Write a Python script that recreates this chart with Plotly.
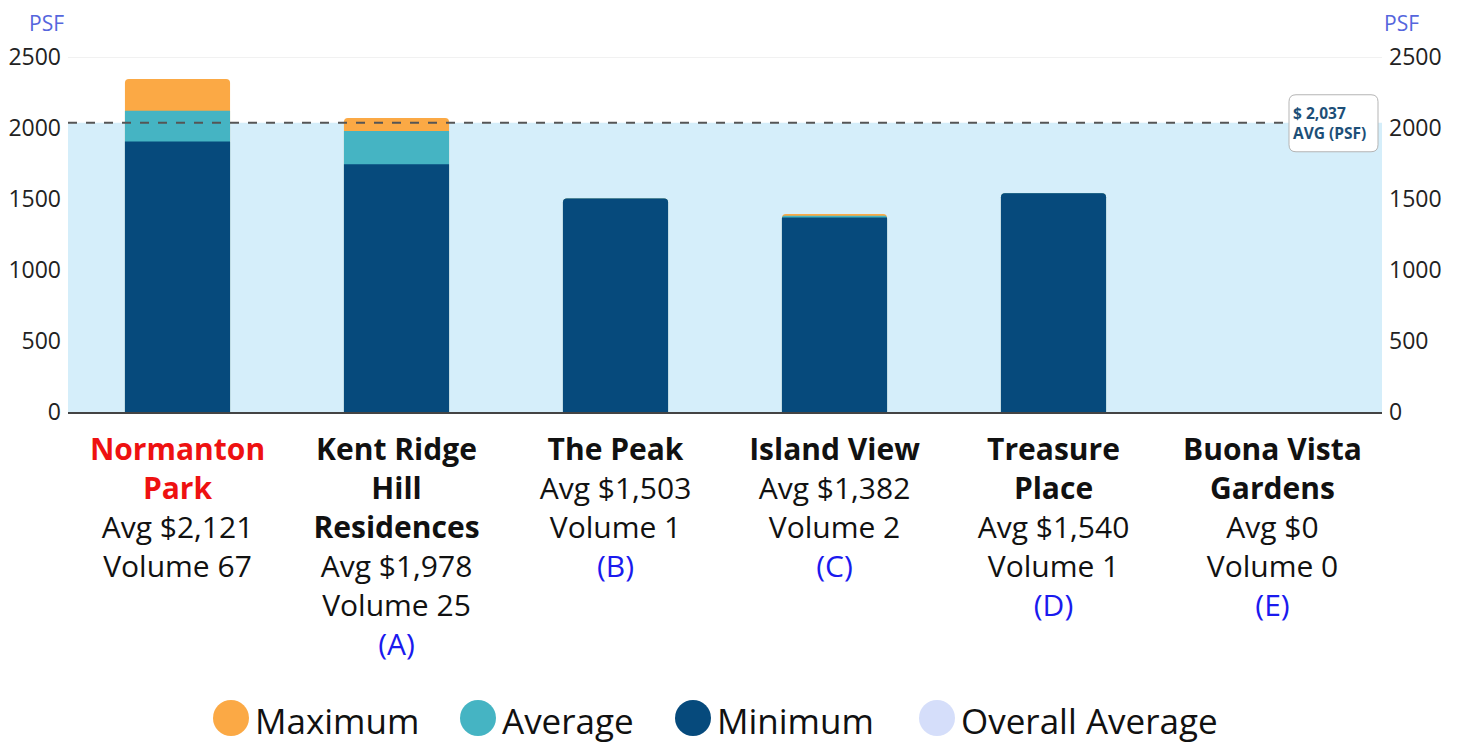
import plotly.graph_objects as go

projects = ["Normanton Park", "Kent Ridge Hill Residences", "The Peak", "Island View", "Treasure Place", "Buona Vista Gardens"]
label_lines = [["Normanton", "Park"], ["Kent Ridge", "Hill", "Residences"], ["The Peak"], ["Island View"], ["Treasure", "Place"], ["Buona Vista", "Gardens"]]
avg_psf = [2121, 1978, 1503, 1382, 1540, 0]
volume = [67, 25, 1, 2, 1, 0]
min_psf = [1905, 1745, 1503, 1370, 1540, 0]
max_psf = [2345, 2070, 1503, 1394, 1540, 0]
letters = ["", "(A)", "(B)", "(C)", "(D)", "(E)"]
overall_avg = 2037
y_ticks = [0, 500, 1000, 1500, 2000, 2500]

C_MAX = "#fba945"
C_AVG = "#45b4c3"
C_MIN = "#064a7c"
C_OVR = "#d5defa"
C_AREA = "#d5eefa"
FONT = "Open Sans"

x = list(range(len(projects)))

ticktext = []
for i, lines in enumerate(label_lines):
    if i == 0:
        name = "<span style='color:#ee1111'>" + "<br>".join("<b>%s</b>" % l for l in lines) + "</span>"
    else:
        name = "<br>".join("<b>%s</b>" % l for l in lines)
    t = name + "<br>Avg $%s<br>Volume %d" % (format(avg_psf[i], ","), volume[i])
    if letters[i]:
        t += "<br><span style='color:#1a1aee'>%s</span>" % letters[i]
    ticktext.append(t)

fig = go.Figure()
for vals, col, nm in [(max_psf, C_MAX, "Maximum"), (avg_psf, C_AVG, "Average"), (min_psf, C_MIN, "Minimum")]:
    fig.add_trace(go.Bar(x=x, y=vals, marker=dict(color=col, line=dict(width=0)), width=0.48,
                         name=nm, showlegend=False))
fig.add_trace(go.Scatter(x=x, y=avg_psf, yaxis="y2", mode="markers", marker=dict(opacity=0),
                         showlegend=False, hoverinfo="skip"))

# page offset (body margin) compensation
OFF = 8
W, H = 1459 - OFF, 744 - OFF
ml = 68 - OFF
mt = 57 - OFF
mr = W - (1382 - OFF)
mb = H - (412 - OFF)
pw, ph = W - ml - mr, H - mt - mb

def px_x(X):  # reference window x -> paper
    return (X - OFF - ml) / pw

def px_y(Y):  # reference window y -> paper
    return (H - (Y - OFF) - mb) / ph

shapes = [
    dict(type="rect", xref="paper", x0=0, x1=1, yref="y", y0=0, y1=overall_avg,
         fillcolor=C_AREA, line=dict(width=0), layer="below"),
    dict(type="line", xref="paper", x0=0, x1=1, yref="y", y0=2500, y1=2500,
         line=dict(color="#e3e3e3", width=1), layer="below"),
    dict(type="line", xref="paper", x0=0, x1=1, yref="y", y0=overall_avg, y1=overall_avg,
         line=dict(color="#555555", width=2, dash="dash"), layer="above"),
]

# rounded label box for overall average
r = 7
bx0, bx1, by0, by1 = -93, -4, -29, 28
path = ("M %d,%d L %d,%d Q %d,%d %d,%d L %d,%d Q %d,%d %d,%d L %d,%d Q %d,%d %d,%d L %d,%d Q %d,%d %d,%d Z" % (
    bx0 + r, by0, bx1 - r, by0, bx1, by0, bx1, by0 + r,
    bx1, by1 - r, bx1, by1, bx1 - r, by1,
    bx0 + r, by1, bx0, by1, bx0, by1 - r,
    bx0, by0 + r, bx0, by0, bx0 + r, by0))
shapes.append(dict(type="path", xref="paper", yref="y", xsizemode="pixel", ysizemode="pixel",
                   xanchor=1, yanchor=overall_avg, path=path, fillcolor="white",
                   line=dict(color="#b5b5b5", width=1), layer="above"))

annotations = []
legend_items = [("Maximum", C_MAX, 231), ("Average", C_AVG, 478), ("Minimum", C_MIN, 693), ("Overall Average", C_OVR, 937)]
for nm, col, cx in legend_items:
    shapes.append(dict(type="circle", xref="paper", yref="paper", xsizemode="pixel", ysizemode="pixel",
                       xanchor=px_x(cx), yanchor=px_y(718), x0=-18, x1=18, y0=-18, y1=18,
                       fillcolor=col, line=dict(width=0)))
    annotations.append(dict(xref="paper", yref="paper", x=px_x(cx + 22), y=px_y(720), text=nm,
                            showarrow=False, xanchor="left", yanchor="middle",
                            font=dict(family=FONT, size=35, color="#111111")))

annotations.append(dict(xref="paper", x=px_x(1291), xanchor="left", yref="y", y=overall_avg, yanchor="middle",
                        text="<b>$ 2,037<br>AVG (PSF)</b>", align="left", showarrow=False,
                        font=dict(family=FONT, size=15.5, color="#1d4f78")))
for X in (28, 1383):
    annotations.append(dict(xref="paper", yref="paper", x=px_x(X), y=1 + mt / ph, text="PSF",
                            showarrow=False, xanchor="left", yanchor="top", borderpad=0,
                            font=dict(family=FONT, size=21, color="#5566dd")))

fig.update_layout(
    width=W, height=H,
    margin=dict(l=ml, r=mr, t=mt, b=mb, autoexpand=False),
    paper_bgcolor="white", plot_bgcolor="white",
    barmode="overlay", barcornerradius=4,
    showlegend=False,
    font=dict(family=FONT, color="#111111"),
    xaxis=dict(tickmode="array", tickvals=x, ticktext=ticktext, range=[-0.5, 5.5],
               showgrid=False, zeroline=False, showline=True, linecolor="#444444", linewidth=1.5,
               tickfont=dict(family=FONT, size=30, color="#111111"), ticks="", ticklabelstandoff=10),
    yaxis=dict(range=[0, 2500], tickvals=y_ticks, showgrid=False, zeroline=False,
               tickfont=dict(family=FONT, size=23, color="#222222"), ticks="", ticklabelstandoff=6),
    yaxis2=dict(range=[0, 2500], tickvals=y_ticks, overlaying="y", side="right", showgrid=False,
                zeroline=False, tickfont=dict(family=FONT, size=23, color="#222222"), ticks="",
                ticklabelstandoff=6),
    shapes=shapes, annotations=annotations,
)

fig.write_html("out.html")
